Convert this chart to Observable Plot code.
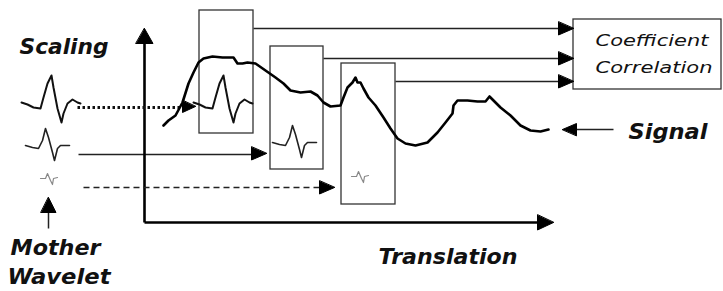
<!DOCTYPE html>
<html><head><meta charset="utf-8">
<script src="https://cdn.jsdelivr.net/npm/d3@7"></script>
<script src="https://cdn.jsdelivr.net/npm/@observablehq/plot@0.6"></script>
<style>html,body{margin:0;padding:0;background:#fff}svg{display:block}</style>
</head><body><div id="chart"></div>
<script>
// ---------- data (diagram coordinates) ----------
const signalX = [163,168,175,182,188,193,198,203,212,222,233,237,242,247,255,265,275,283,290,300,310,317,323,330,340,343,347,352,355,357,360,363,368,375,383,390,397,405,415,423,427,437,445,452,453,457,467,477,485,489,492,500,510,520,530,540,548];
const signalY = [125,120,115,102,83,72,62,58,56,57,57,63,63,62,63,70,77,83,90,92,91,95,102,106,105,97,87,82,77,82,82,88,97,105,117,128,138,143,145,143,142,132,122,113,105,100,100,101,101,96,99,107,115,125,130,131,129];

// wavelets at three scales (left column)
const bigX = [21,27,33,40,43,47,51,53,57,61,63,67,72,77,80];
const bigY = [102,104,107,108,97,83,75,87,108,122,113,103,99,102,103];
const medX = [25,32,38,42,45,48,52,54,57,60,65,69];
const medY = [145,147,148,140,128,137,152,160,148,145,145,145];
const smlX = [40,45,47,50,52,53,57];
const smlY = [178,178,173,180,184,178,177];
// translated copies inside the windows
const copyShift = [172, 247, 311];
const copyLift = [0, -3, -2];

// windows and the correlation box
const boxX1 = [199,270,341,573];
const boxX2 = [253,323,395,721];
const boxY1 = [10,46,63,19];
const boxY2 = [133,169,204,89];

// straight connectors
const linkX1 = [253,323,395,78,613,48];
const linkY1 = [28,58,81,154,129,228];
const linkX2 = [558,558,558,252,575,48];
const linkY2 = [28,58,81,154,129,211];

// axes
const axisX1 = [144,144];
const axisY1 = [222,222];
const axisX2 = [144,538];
const axisY2 = [42,222];

// arrow tips
const tipX = [144,553,573,573,573,562,48,195,266,334];
const tipY = [28,222,28,58,81,129,197,106,153,187];
const tipDir = ["up","right","right","right","right","left","up","right","right","right"];

// labels
const labels = ["Scaling","Mother","Wavelet","Translation","Signal","Coefficient","Correlation"];
const labelX = [19,10,7,378,628,595,595];
const labelY = [53,254,283,263,138,45,72];

// ---------- styles / sizes ----------
const headLen = [15,16,15,15,15,14,15,13,15,15];
const headWid = [17,15,13,13,13,12,15,12,13,13];
const labelSize = [21,21,21,21,21,16,16];
const labelWeight = ["bold","bold","bold","bold","bold","normal","normal"];
const labelWidth = [89,90,103,139,79,113,117];

// ---------- build tables ----------
const pts = (xs, ys, id, dx = 0, dy = 0) => xs.map((x, i) => ({x: x + dx, y: ys[i] + dy, id}));
const signal = pts(signalX, signalY, "s");
const shapes = [[bigX, bigY], [medX, medY], [smlX, smlY]];
const waveLeft = shapes.map(([xs, ys], k) => pts(xs, ys, "L" + k));
const waveCopy = shapes.map(([xs, ys], k) => pts(xs, ys, "C" + k, copyShift[k], copyLift[k]));
const waveStroke = ["#111", "#222", "#888"];
const waveWidth = [2, 1.6, 1.2];

const boxes = boxX1.map((x1, i) => ({x1, x2: boxX2[i], y1: boxY1[i], y2: boxY2[i]}));
const links = linkX1.map((x1, i) => ({x1, y1: linkY1[i], x2: linkX2[i], y2: linkY2[i]}));
const axes = axisX1.map((x1, i) => ({x1, y1: axisY1[i], x2: axisX2[i], y2: axisY2[i]}));

const dirs = {up: [0, -1], right: [1, 0], left: [-1, 0], down: [0, 1]};
const heads = [];
tipX.forEach((tx, i) => {
  const [ux, uy] = dirs[tipDir[i]];
  const L = headLen[i], W = headWid[i] / 2;
  const bx = tx - ux * L, by = tipY[i] - uy * L;
  heads.push({x: tx, y: tipY[i], id: i});
  heads.push({x: bx - uy * W, y: by + ux * W, id: i});
  heads.push({x: bx + uy * W, y: by - ux * W, id: i});
});

const labelRows = labels.map((t, i) => ({t, x: labelX[i], y: labelY[i], i}));

const marks = [
  Plot.rect(boxes, {x1: "x1", x2: "x2", y1: "y1", y2: "y2", fill: "none", stroke: "#333", strokeWidth: 1.3}),
  Plot.link(links, {x1: "x1", y1: "y1", x2: "x2", y2: "y2", stroke: "#222", strokeWidth: 1.5}),
  Plot.link(axes, {x1: "x1", y1: "y1", x2: "x2", y2: "y2", stroke: "#000", strokeWidth: 2.6}),
  // dotted feed of the large wavelet
  Plot.link([{x1: 77, y1: 107, x2: 183, y2: 107}], {x1: "x1", y1: "y1", x2: "x2", y2: "y2", stroke: "#111", strokeWidth: 3, strokeDasharray: "2.5,2.5"}),
  // dashed feed of the small wavelet
  Plot.link([{x1: 83, y1: 187, x2: 320, y2: 187}], {x1: "x1", y1: "y1", x2: "x2", y2: "y2", stroke: "#222", strokeWidth: 1.5, strokeDasharray: "6,4"}),
  Plot.line(signal, {x: "x", y: "y", stroke: "#000", strokeWidth: 2.6, strokeLinejoin: "round"}),
  ...waveLeft.map((d, k) => Plot.line(d, {x: "x", y: "y", stroke: waveStroke[k], strokeWidth: waveWidth[k]})),
  ...waveCopy.map((d, k) => Plot.line(d, {x: "x", y: "y", stroke: waveStroke[k], strokeWidth: waveWidth[k]})),
  Plot.line(heads, {x: "x", y: "y", z: "id", fill: "#000", stroke: "#000", strokeWidth: 1, curve: "linear-closed"}),
  ...labelRows.map((r) => Plot.text([r], {
    x: "x", y: "y", text: "t", textAnchor: "start", lineAnchor: "bottom",
    fontSize: labelSize[r.i], fontWeight: labelWeight[r.i], fontStyle: "italic",
    fontFamily: "DejaVu Sans", fill: "#111"
  }))
];

const svg = Plot.plot({
  width: 723, height: 291, margin: 0,
  x: {domain: [0, 723], range: [0, 723], axis: null},
  y: {domain: [0, 291], range: [0, 291], axis: null},
  style: {background: "#fff"},
  marks
});
// fit label widths
svg.querySelectorAll("text").forEach((el) => {
  const i = labels.indexOf(el.textContent);
  if (i >= 0) { el.setAttribute("textLength", labelWidth[i]); el.setAttribute("lengthAdjust", "spacingAndGlyphs"); }
});
document.getElementById("chart").appendChild(svg);
</script>
</body></html>
